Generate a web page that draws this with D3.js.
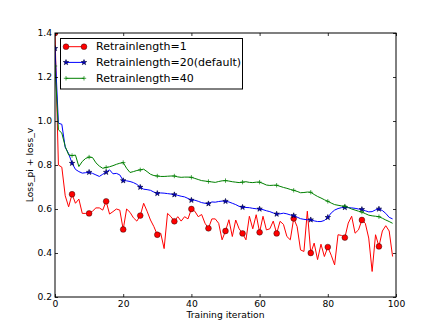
<!DOCTYPE html>
<html>
<head>
<meta charset="utf-8">
<script src="https://cdn.jsdelivr.net/npm/d3@7"></script>
<style>
  html, body { margin: 0; padding: 0; background: #fff; }
  svg { display: block; }
  text { font-family: "DejaVu Sans", sans-serif; }
</style>
</head>
<body>
<svg id="chart" width="440" height="330"></svg>
<script>
// ---- data ----
const iterations = d3.range(0, 100);
const seriesNames = ["Retrainlength=1", "Retrainlength=20(default)", "Retrainlength=40"];
const retrain1 = [
  1.40, 0.80, 0.79, 0.66, 0.61, 0.667, 0.626, 0.645, 0.58, 0.58,
  0.58, 0.59, 0.605, 0.605, 0.595, 0.635, 0.577, 0.588, 0.60, 0.595,
  0.507, 0.60, 0.585, 0.56, 0.545, 0.57, 0.626, 0.59, 0.55, 0.52,
  0.483, 0.49, 0.42, 0.58, 0.565, 0.544, 0.565, 0.545, 0.565, 0.555,
  0.60, 0.59, 0.565, 0.575, 0.535, 0.512, 0.555, 0.555, 0.535, 0.46,
  0.50, 0.551, 0.475, 0.55, 0.51, 0.489, 0.46, 0.567, 0.51, 0.574,
  0.494, 0.567, 0.505, 0.51, 0.545, 0.489, 0.544, 0.53, 0.475, 0.46,
  0.557, 0.52, 0.414, 0.407, 0.59, 0.40, 0.445, 0.37, 0.44, 0.384,
  0.427, 0.39, 0.346, 0.483, 0.48, 0.47, 0.536, 0.567, 0.49, 0.505,
  0.55, 0.535, 0.468, 0.316, 0.483, 0.43, 0.50, 0.524, 0.50, 0.384
];
const retrain20 = [
  1.33, 0.99, 0.985, 0.88, 0.852, 0.808, 0.78, 0.77, 0.763, 0.765,
  0.767, 0.762, 0.755, 0.748, 0.758, 0.767, 0.778, 0.76, 0.762, 0.755,
  0.729, 0.728, 0.725, 0.72, 0.712, 0.699, 0.69, 0.688, 0.685, 0.677,
  0.671, 0.673, 0.672, 0.67, 0.668, 0.665, 0.662, 0.658, 0.655, 0.648,
  0.64, 0.64, 0.635, 0.629, 0.626, 0.624, 0.632, 0.631, 0.634, 0.636,
  0.635, 0.632, 0.626, 0.62, 0.612, 0.608, 0.607, 0.606, 0.603, 0.601,
  0.60, 0.597, 0.592, 0.588, 0.582, 0.577, 0.578, 0.581, 0.578, 0.573,
  0.57, 0.563, 0.556, 0.553, 0.551, 0.551, 0.546, 0.543, 0.543, 0.548,
  0.562, 0.582, 0.595, 0.602, 0.606, 0.607, 0.606, 0.605, 0.603, 0.60,
  0.598, 0.592, 0.587, 0.588, 0.596, 0.60, 0.593, 0.58, 0.562, 0.555
];
const retrain40 = [
  1.25, 0.96, 0.945, 0.884, 0.846, 0.843, 0.845, 0.793, 0.816, 0.83,
  0.836, 0.834, 0.81, 0.795, 0.785, 0.789, 0.792, 0.797, 0.803, 0.808,
  0.811, 0.785, 0.766, 0.77, 0.775, 0.778, 0.781, 0.77, 0.758, 0.752,
  0.75, 0.748, 0.748, 0.749, 0.75, 0.75, 0.746, 0.744, 0.745, 0.745,
  0.744, 0.739, 0.734, 0.729, 0.727, 0.725, 0.723, 0.721, 0.725, 0.728,
  0.729, 0.727, 0.724, 0.722, 0.72, 0.722, 0.724, 0.721, 0.72, 0.722,
  0.722, 0.716, 0.709, 0.707, 0.708, 0.708, 0.703, 0.698, 0.694, 0.689,
  0.685, 0.68, 0.674, 0.675, 0.677, 0.676, 0.666, 0.657, 0.65, 0.642,
  0.635, 0.627, 0.62, 0.617, 0.614, 0.613, 0.607, 0.60, 0.595, 0.59,
  0.586, 0.579, 0.572, 0.569, 0.567, 0.565, 0.558, 0.55, 0.543, 0.535
];
const xTicks = [0, 20, 40, 60, 80, 100];
const yTicks = [0.2, 0.4, 0.6, 0.8, 1.0, 1.2, 1.4];
const xLabel = "Training iteration";
const yLabel = "Loss_pi + loss_v";

// ---- layout ----
const W = 440, H = 330;
const L = 55, R = 396, T = 33, B = 297;
const svg = d3.select("#chart");
svg.append("rect").attr("width", W).attr("height", H).attr("fill", "#fff");

const x = d3.scaleLinear().domain([0, 100]).range([L, R]);
const y = d3.scaleLinear().domain([0.2, 1.4]).range([B, T]);

svg.append("defs").append("clipPath").attr("id", "clip")
  .append("rect").attr("x", L).attr("y", T).attr("width", R - L).attr("height", B - T);

const styles = [
  { data: retrain1, color: "#ff0000", marker: "circle" },
  { data: retrain20, color: "#0000ff", marker: "star" },
  { data: retrain40, color: "#008000", marker: "plus" }
];

function drawMarker(g, type, cx, cy, color) {
  if (type === "circle") {
    g.append("circle").attr("cx", cx).attr("cy", cy).attr("r", 2.9)
      .attr("fill", color).attr("stroke", "#000").attr("stroke-width", 0.4);
  } else if (type === "star") {
    g.append("path").attr("d", d3.symbol().type(d3.symbolStar).size(9)())
      .attr("transform", `translate(${cx},${cy})`)
      .attr("fill", "#0000cc").attr("stroke", "#000033").attr("stroke-width", 0.6);
  } else {
    const s = 2.2;
    g.append("path").attr("d", `M${cx - s},${cy}H${cx + s}M${cx},${cy - s}V${cy + s}`)
      .attr("stroke", color).attr("stroke-width", 0.7).attr("fill", "none");
  }
}

const plot = svg.append("g").attr("clip-path", "url(#clip)");
const line = d3.line().x((d, i) => x(iterations[i])).y(d => y(d));
styles.forEach(s => {
  plot.append("path").datum(s.data).attr("d", line)
    .attr("fill", "none").attr("stroke", s.color).attr("stroke-width", 1);
  const mg = plot.append("g");
  s.data.forEach((v, i) => {
    if (i % 5 === 0) drawMarker(mg, s.marker, x(iterations[i]), y(v), s.color);
  });
});

// ---- axes (ticks inside, on all four sides) ----
const fmtY = d3.format(".1f");
const axB = svg.append("g").attr("transform", `translate(0,${B})`)
  .call(d3.axisBottom(x).tickValues(xTicks).tickSize(-3).tickPadding(3).tickFormat(d3.format("d")));
const axT = svg.append("g").attr("transform", `translate(0,${T})`)
  .call(d3.axisTop(x).tickValues(xTicks).tickSize(-3).tickFormat(""));
const axLft = svg.append("g").attr("transform", `translate(${L},0)`)
  .call(d3.axisLeft(y).tickValues(yTicks).tickSize(-3).tickPadding(3).tickFormat(fmtY));
const axRt = svg.append("g").attr("transform", `translate(${R},0)`)
  .call(d3.axisRight(y).tickValues(yTicks).tickSize(-3).tickFormat(""));
[axB, axT, axLft, axRt].forEach(a => {
  a.select(".domain").remove();
  a.selectAll("line").attr("stroke", "#000").attr("stroke-width", 0.8);
  a.selectAll("text").attr("font-size", "9.2px").attr("fill", "#000")
    .attr("font-family", "DejaVu Sans");
});
svg.append("rect").attr("x", L).attr("y", T).attr("width", R - L).attr("height", B - T)
  .attr("fill", "none").attr("stroke", "#000").attr("stroke-width", 1);

// ---- axis labels ----
svg.append("text").attr("x", (L + R) / 2).attr("y", 317.5).attr("text-anchor", "middle")
  .attr("font-size", "9.2px").text(xLabel);
svg.append("text").attr("transform", `translate(33,${(T + B) / 2}) rotate(-90)`)
  .attr("text-anchor", "middle").attr("font-size", "9.2px").text(yLabel);

// ---- legend ----
const lg = svg.append("g");
lg.append("rect").attr("x", 60.5).attr("y", 38.5).attr("width", 182).attr("height", 50.5)
  .attr("fill", "#fff").attr("stroke", "#000").attr("stroke-width", 1);
const rowY = [46.7, 62.4, 78.3];
styles.forEach((s, k) => {
  const yy = rowY[k];
  lg.append("line").attr("x1", 66).attr("x2", 84).attr("y1", yy).attr("y2", yy)
    .attr("stroke", s.color).attr("stroke-width", 1);
  drawMarker(lg, s.marker, 66, yy, s.color);
  drawMarker(lg, s.marker, 84, yy, s.color);
  lg.append("text").attr("x", 96).attr("y", yy + 3.6).attr("font-size", "11px")
    .attr("fill", "#000").text(seriesNames[k]);
});
</script>
</body>
</html>
